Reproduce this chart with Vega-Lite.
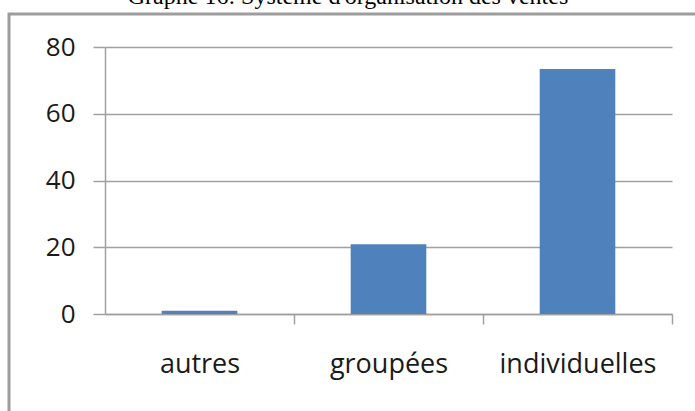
{
  "$schema": "https://vega.github.io/schema/vega-lite/v6.json",
  "width": 700,
  "height": 420,
  "autosize": {"type": "none"},
  "padding": {"left": 9, "top": 14, "right": 0, "bottom": 0},
  "background": "white",
  "title": {
    "text": "Graphe 16: Système d'organisation des ventes",
    "font": "Liberation Serif",
    "fontSize": 24,
    "fontWeight": "normal",
    "color": "#000000",
    "anchor": "middle",
    "frame": "group",
    "baseline": "alphabetic",
    "offset": 8,
    "dy": 22,
    "dx": -11
  },
  "data": {
    "values": [
      {"categorie": "autres", "valeur": 1.0},
      {"categorie": "groupées", "valeur": 20.9},
      {"categorie": "individuelles", "valeur": 73.4}
    ]
  },
  "mark": {"type": "bar", "color": "#4f81bd"},
  "encoding": {
    "x": {
      "field": "categorie",
      "type": "nominal",
      "sort": null,
      "scale": {"range": [96, 663], "paddingInner": 0.6, "paddingOuter": 0.3},
      "axis": {
        "title": null,
        "offset": -120,
        "labelAngle": 0,
        "labelFont": "Open Sans",
        "labelFontSize": 27,
        "labelColor": "#1a1a1a",
        "labelPadding": 27,
        "tickOffset": 94.5,
        "labelOffset": -94.5,
        "tickSize": 10,
        "tickColor": "#a0a0a0",
        "tickWidth": 1.5,
        "domainColor": "#a0a0a0",
        "domainWidth": 1.5,
        "grid": false
      }
    },
    "y": {
      "field": "valeur",
      "type": "quantitative",
      "scale": {"domain": [0, 80], "range": [300, 33], "nice": false},
      "axis": {
        "title": null,
        "offset": -96,
        "values": [0, 20, 40, 60, 80],
        "labelFont": "Open Sans",
        "labelFontSize": 26,
        "labelColor": "#1a1a1a",
        "labelPadding": 18,
        "tickSize": 12,
        "tickColor": "#a0a0a0",
        "tickWidth": 1.5,
        "domainColor": "#a0a0a0",
        "domainWidth": 1.5,
        "grid": true,
        "gridColor": "#a0a0a0",
        "gridWidth": 1.5
      }
    }
  },
  "config": {
    "view": {"stroke": "#9d9d9d", "strokeWidth": 3}
  }
}
